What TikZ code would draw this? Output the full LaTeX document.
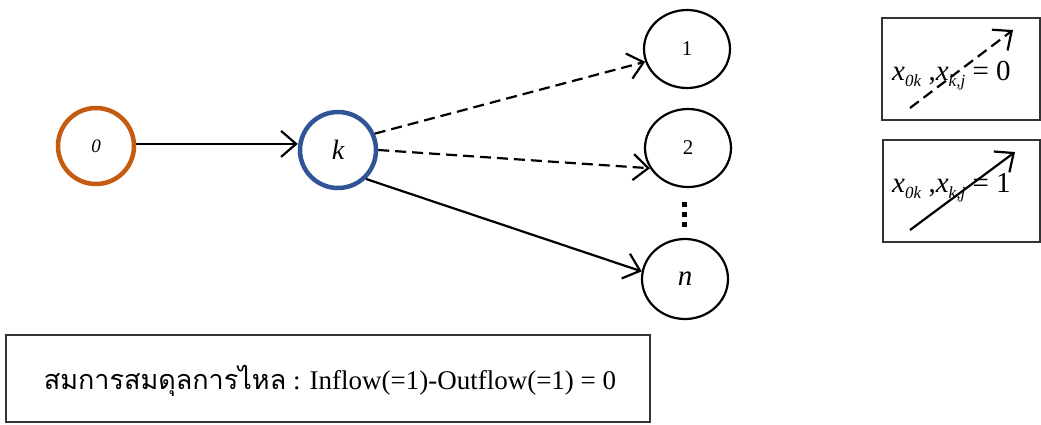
\documentclass[tikz,border=0pt]{standalone}
\usepackage{fontspec}
\setmainfont{Liberation Serif}
\newfontfamily\thaifont[Script=Thai]{Loma}
\usetikzlibrary{arrows.meta,shapes.geometric}
\definecolor{orng}{HTML}{C55A11}
\definecolor{blu}{HTML}{2F5597}
\newcommand{\lgtext}[1]{\fontsize{29}{29}\selectfont\textit{x}\raisebox{-6pt}{\fontsize{17}{17}\selectfont\textit{0k}}\ ,\textit{x}\raisebox{-6pt}{\fontsize{17}{17}\selectfont\textit{k,j}} = #1}
\begin{document}
\begin{tikzpicture}[x=1pt,y=-1pt,
  every node/.style={inner sep=0pt},
  circ/.style={ellipse,draw,line width=2.2pt,minimum width=86pt,minimum height=78pt},
  bigcirc/.style={circle,draw,line width=4.5pt,minimum size=76pt},
  arr/.style={line width=2.2pt,-{Straight Barb[length=15pt,width=26pt,line width=2.2pt]}},
  dsh/.style={arr,dash pattern=on 11pt off 6pt},
  box/.style={draw=black!80,line width=1.3pt}]
\useasboundingbox (0,0) rectangle (1041,424);
% nodes
\node[bigcirc,draw=orng] (n0) at (96,146) {\fontsize{19}{19}\selectfont\itshape 0};
\node[bigcirc,draw=blu] (k) at (338,150) {\fontsize{28}{28}\selectfont\itshape k};
\node[circ] (n1) at (687,49) {\fontsize{21}{21}\selectfont 1};
\node[circ] (n2) at (688,148) {\fontsize{21}{21}\selectfont 2};
\node[circ,minimum height=80pt] (nn) at (685,279) {\fontsize{29}{29}\selectfont\itshape n};
% dots
\fill (682,202) rectangle (687,207);
\fill (682,212) rectangle (687,217);
\fill (682,222) rectangle (687,227);
% arrows
\draw[arr] (n0.3) -- (n0.3 -| k.west);
\draw[dsh] (k.24) -- (n1.197);
\draw[dsh] (k.east) -- (n2.208);
\draw[arr] (k.-46) -- (nn.170);
% legend
\node[box,minimum width=158pt,minimum height=102pt] (lg1) at (961,69) {};
\node[box,minimum width=157pt,minimum height=102pt] (lg2) at (961.5,191) {};
\node[anchor=base west] (t1) at (892,80) {\lgtext{0}};
\node[anchor=base west] (t2) at (892,192) {\lgtext{1}};
\coordinate (d1) at (910,108);
\coordinate (d2) at (1013,30);
\coordinate (s1) at (910,230);
\coordinate (s2) at (1015,152);
\draw[dsh] (d1) -- (d2);
\draw[arr] (s1) -- (s2);
% bottom box
\node[box,minimum width=644pt,minimum height=87pt] (eq) at (328,378.5) {};
\node[anchor=base] (eqt) at (330,389) {\fontsize{27}{27}\selectfont{\thaifont สมการสมดุลการไหล} : Inflow(=1)-Outflow(=1) = 0};
\end{tikzpicture}
\end{document}
